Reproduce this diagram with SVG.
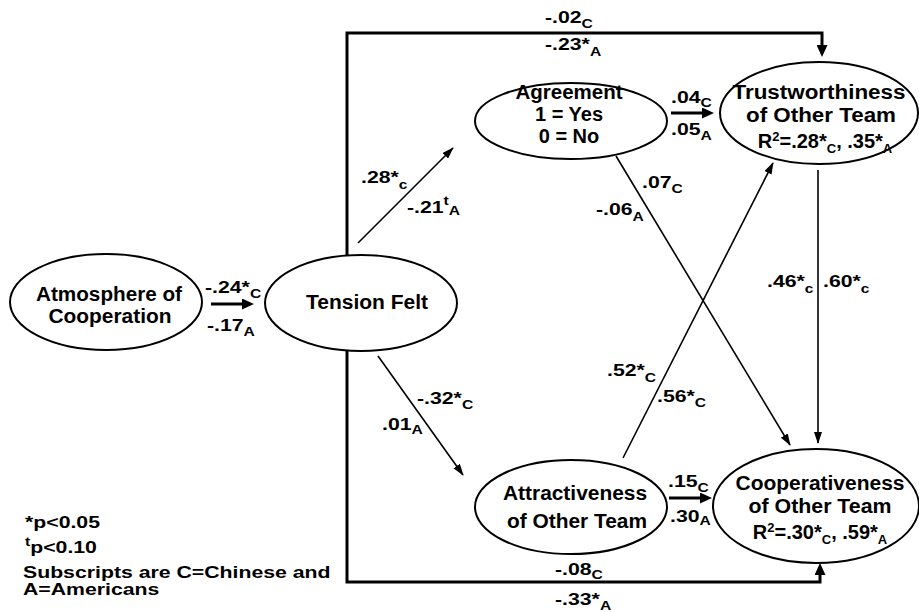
<svg xmlns="http://www.w3.org/2000/svg" width="919" height="612" viewBox="0 0 919 612">
<style>
.n ellipse{fill:#fff;stroke:#000;stroke-width:2}
.t{font-family:"Liberation Sans",Arial,Helvetica,sans-serif;font-weight:bold;font-size:20px;text-anchor:middle;fill:#000}
.lb{font-family:"Liberation Sans",Arial,Helvetica,sans-serif;font-weight:bold;font-size:17px;fill:#000}
.sb{font-size:12.5px}
.ns{font-size:13px}
.thin{fill:none;stroke:#000;stroke-width:1.6}
.thick{fill:none;stroke:#000;stroke-width:3}
</style>
<defs>
<marker id="ah" markerUnits="userSpaceOnUse" markerWidth="12" markerHeight="8" refX="11" refY="4" orient="auto">
<path d="M0,0 L12,4 L0,8 z" fill="#000"/>
</marker>
<marker id="ahk" markerUnits="userSpaceOnUse" markerWidth="12" markerHeight="11" refX="8" refY="5.5" orient="auto">
<path d="M0,0 L12,5.5 L0,11 z" fill="#000"/>
</marker>
</defs>
<rect width="919" height="612" fill="#fff"/>
<g id="connectors">
<path class="thick" d="M347,255 V33 H822 V53" marker-end="url(#ahk)"/>
<path class="thick" d="M347,351 V582 H820 V567" marker-end="url(#ahk)"/>
<line class="thick" x1="211" y1="304" x2="250" y2="304" marker-end="url(#ahk)"/>
<line class="thick" x1="671" y1="113" x2="710" y2="113" marker-end="url(#ahk)"/>
<line class="thick" x1="669" y1="498" x2="708" y2="498" marker-end="url(#ahk)"/>
<line class="thin" x1="358" y1="243" x2="453" y2="148" marker-end="url(#ah)"/>
<line class="thin" x1="378" y1="356" x2="463" y2="475" marker-end="url(#ah)"/>
<line class="thin" x1="616" y1="156" x2="790" y2="445" marker-end="url(#ah)"/>
<line class="thin" x1="623" y1="458" x2="773" y2="163" marker-end="url(#ah)"/>
<line class="thin" x1="818" y1="170" x2="818" y2="443" marker-end="url(#ah)"/>
<g id="labels">
<text class="lb" transform="translate(205,293) scale(1.25,1)">-.24*<tspan class="sb" dy="5">C</tspan></text>
<text class="lb" transform="translate(207,331) scale(1.25,1)">-.17<tspan class="sb" dy="5">A</tspan></text>
<text class="lb" transform="translate(361,183) scale(1.25,1)">.28*<tspan class="sb" dy="6">c</tspan></text>
<text class="lb" transform="translate(407,213) scale(1.25,1)">-.21<tspan class="sb" dy="-8">t</tspan><tspan class="sb" dy="10">A</tspan></text>
<text class="lb" transform="translate(417,404) scale(1.25,1)">-.32*<tspan class="sb" dy="5">C</tspan></text>
<text class="lb" transform="translate(382,430) scale(1.25,1)">.01<tspan class="sb" dy="4">A</tspan></text>
<text class="lb" transform="translate(545,23) scale(1.25,1)">-.02<tspan class="sb" dy="5">C</tspan></text>
<text class="lb" transform="translate(545,50) scale(1.25,1)">-.23*<tspan class="sb" dy="6">A</tspan></text>
<text class="lb" transform="translate(671,103) scale(1.25,1)">.04<tspan class="sb" dy="4">C</tspan></text>
<text class="lb" transform="translate(671,135) scale(1.25,1)">.05<tspan class="sb" dy="5">A</tspan></text>
<text class="lb" transform="translate(642,188) scale(1.25,1)">.07<tspan class="sb" dy="5">C</tspan></text>
<text class="lb" transform="translate(596,215) scale(1.25,1)">-.06<tspan class="sb" dy="6">A</tspan></text>
<text class="lb" transform="translate(767,287) scale(1.25,1)">.46*<tspan class="sb" dy="6">c</tspan></text>
<text class="lb" transform="translate(823,287) scale(1.25,1)">.60*<tspan class="sb" dy="6">c</tspan></text>
<text class="lb" transform="translate(607,376) scale(1.25,1)">.52*<tspan class="sb" dy="6">C</tspan></text>
<text class="lb" transform="translate(657,402) scale(1.25,1)">.56*<tspan class="sb" dy="5">C</tspan></text>
<text class="lb" transform="translate(668,487) scale(1.25,1)">.15<tspan class="sb" dy="5">C</tspan></text>
<text class="lb" transform="translate(670,522) scale(1.25,1)">.30<tspan class="sb" dy="3">A</tspan></text>
<text class="lb" transform="translate(555,575) scale(1.25,1)">-.08<tspan class="sb" dy="4">C</tspan></text>
<text class="lb" transform="translate(555,605) scale(1.25,1)">-.33*<tspan class="sb" dy="5">A</tspan></text>
</g>
</g>
<g id="atmosphere" class="n">
<ellipse cx="106" cy="302" rx="96" ry="48"/>
<text class="t" x="109" y="301" textLength="146" lengthAdjust="spacingAndGlyphs">Atmosphere of</text>
<text class="t" x="110" y="323" textLength="123" lengthAdjust="spacingAndGlyphs">Cooperation</text>
</g>
<g id="tension" class="n">
<ellipse cx="361" cy="303" rx="96" ry="48"/>
<text class="t" x="367" y="309" textLength="122" lengthAdjust="spacingAndGlyphs">Tension Felt</text>
</g>
<g id="agreement" class="n">
<ellipse cx="571" cy="121" rx="96" ry="38"/>
<text class="t" x="569" y="99" textLength="107" lengthAdjust="spacingAndGlyphs">Agreement</text>
<text class="t" x="569" y="121">1 = Yes</text>
<text class="t" x="569" y="143">0 = No</text>
</g>
<g id="trustworthiness" class="n">
<ellipse cx="819" cy="113" rx="99" ry="51"/>
<text class="t" x="819" y="99" textLength="173" lengthAdjust="spacingAndGlyphs">Trustworthiness</text>
<text class="t" x="821" y="122" textLength="150" lengthAdjust="spacingAndGlyphs">of Other Team</text>
<text class="t" x="825" y="148">R<tspan class="ns" dy="-7">2</tspan><tspan dy="7">=.28*</tspan><tspan class="ns" dy="5">C</tspan><tspan dy="-5">, .35*</tspan><tspan class="ns" dy="5">A</tspan></text>
</g>
<g id="attractiveness" class="n">
<ellipse cx="571" cy="507" rx="96" ry="47"/>
<text class="t" x="575" y="500" textLength="144" lengthAdjust="spacingAndGlyphs">Attractiveness</text>
<text class="t" x="577" y="528" textLength="140" lengthAdjust="spacingAndGlyphs">of Other Team</text>
</g>
<g id="cooperativeness" class="n">
<ellipse cx="816" cy="506" rx="103" ry="57"/>
<text class="t" x="820" y="490" textLength="169" lengthAdjust="spacingAndGlyphs">Cooperativeness</text>
<text class="t" x="820" y="513" textLength="143" lengthAdjust="spacingAndGlyphs">of Other Team</text>
<text class="t" x="820" y="539">R<tspan class="ns" dy="-7">2</tspan><tspan dy="7">=.30*</tspan><tspan class="ns" dy="5">C</tspan><tspan dy="-5">, .59*</tspan><tspan class="ns" dy="5">A</tspan></text>
</g>
<g id="legend">
<text class="lb" transform="translate(25,528) scale(1.25,1)">*p&lt;0.05</text>
<text class="lb" transform="translate(25,553) scale(1.25,1)"><tspan class="sb" dy="-7">t</tspan><tspan dy="7">p&lt;0.10</tspan></text>
<text class="lb" transform="translate(23,578) scale(1.25,1)">Subscripts are C=Chinese and</text>
<text class="lb" transform="translate(23,595) scale(1.25,1)">A=Americans</text>
</g>
</svg>
